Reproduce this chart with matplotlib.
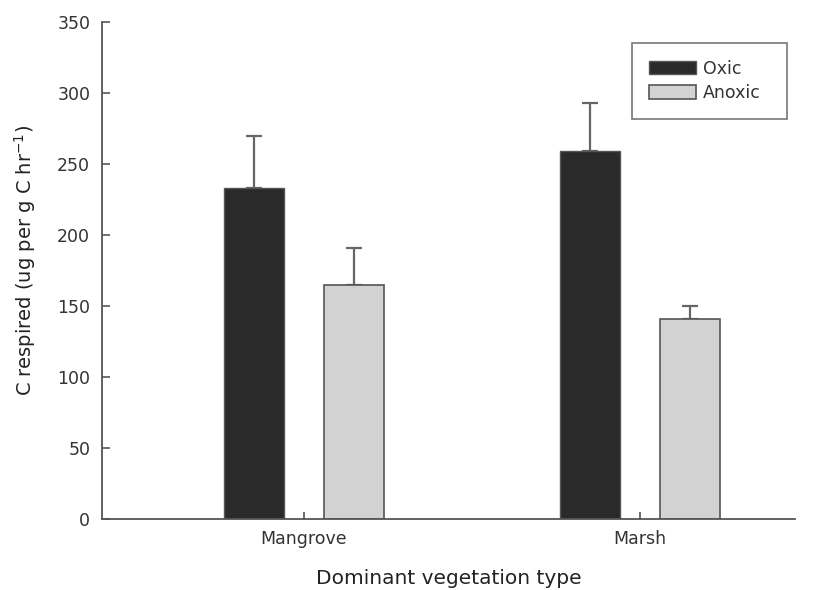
import matplotlib
matplotlib.use("Agg")
import matplotlib.pyplot as plt
import numpy as np

plt.rcParams['font.family'] = ['DejaVu Sans']

categories = ["Mangrove", "Marsh"]
oxic = [233, 259]
oxic_err = [37, 34]
anoxic = [165, 141]
anoxic_err = [26, 9]
yticks = [0, 50, 100, 150, 200, 250, 300, 350]

W, H = 830, 590
fig = plt.figure(figsize=(W / 100, H / 100), dpi=100)
left, right, bottom, top = 102, 795, 519, 22
ax = fig.add_axes([left / W, 1 - bottom / H, (right - left) / W, (bottom - top) / H])

x = np.arange(len(categories))
width = 0.1786
offset = 0.149
edge = "#555555"

ax.bar(x - offset, oxic, width, color="#2a2a2a", edgecolor=edge, linewidth=1.0,
       label="Oxic", zorder=2)
ax.bar(x + offset, anoxic, width, color="#d2d2d2", edgecolor=edge, linewidth=1.2,
       label="Anoxic", zorder=2)
ax.errorbar(x - offset, oxic, yerr=[np.zeros(len(oxic)), oxic_err], fmt="none",
            ecolor="#666666", elinewidth=1.6, capsize=5.8, capthick=1.6, zorder=1)
ax.errorbar(x + offset, anoxic, yerr=[np.zeros(len(anoxic)), anoxic_err], fmt="none",
            ecolor="#666666", elinewidth=1.6, capsize=5.8, capthick=1.6, zorder=1)

ax.set_xlim(-0.601, 1.461)
ax.set_ylim(0, 350)
ax.set_yticks(yticks)
ax.set_xticks(x)
ax.set_xticklabels(categories)

for s in ("top", "right"):
    ax.spines[s].set_visible(False)
for s in ("left", "bottom"):
    ax.spines[s].set_color("#555555")
    ax.spines[s].set_linewidth(1.3)

ax.tick_params(axis="y", direction="in", length=5.5, width=1.2, color="#555555",
               labelsize=12.5, labelcolor="#333333", pad=8.5)
ax.tick_params(axis="x", direction="in", length=5, width=1.2, color="#555555",
               labelsize=12.5, labelcolor="#333333", pad=8)

ax.set_xlabel("Dominant vegetation type", fontsize=14.5, color="#222222", labelpad=15)
ax.set_ylabel("C respired (ug per g C hr$^{-1}$)", fontsize=14, color="#222222",
              labelpad=14)
ax.yaxis.label.set_y(0.521)

# legend box spans a fixed figure region; "expand" keeps entries left-aligned inside it
leg = ax.legend(loc="upper left",
                bbox_to_anchor=(632 / W, 1 - 118 / H, 155 / W, 75 / H),
                bbox_transform=fig.transFigure, mode="expand", frameon=True,
                fancybox=False, edgecolor="#555555", fontsize=12.5,
                handlelength=2.7, handleheight=0.82, borderpad=0.96,
                labelspacing=0.38, handletextpad=0.45, borderaxespad=0)
leg.get_frame().set_linewidth(1.2)
for t in leg.get_texts():
    t.set_color("#333333")

fig.savefig("out.png", dpi=100, facecolor="white")
